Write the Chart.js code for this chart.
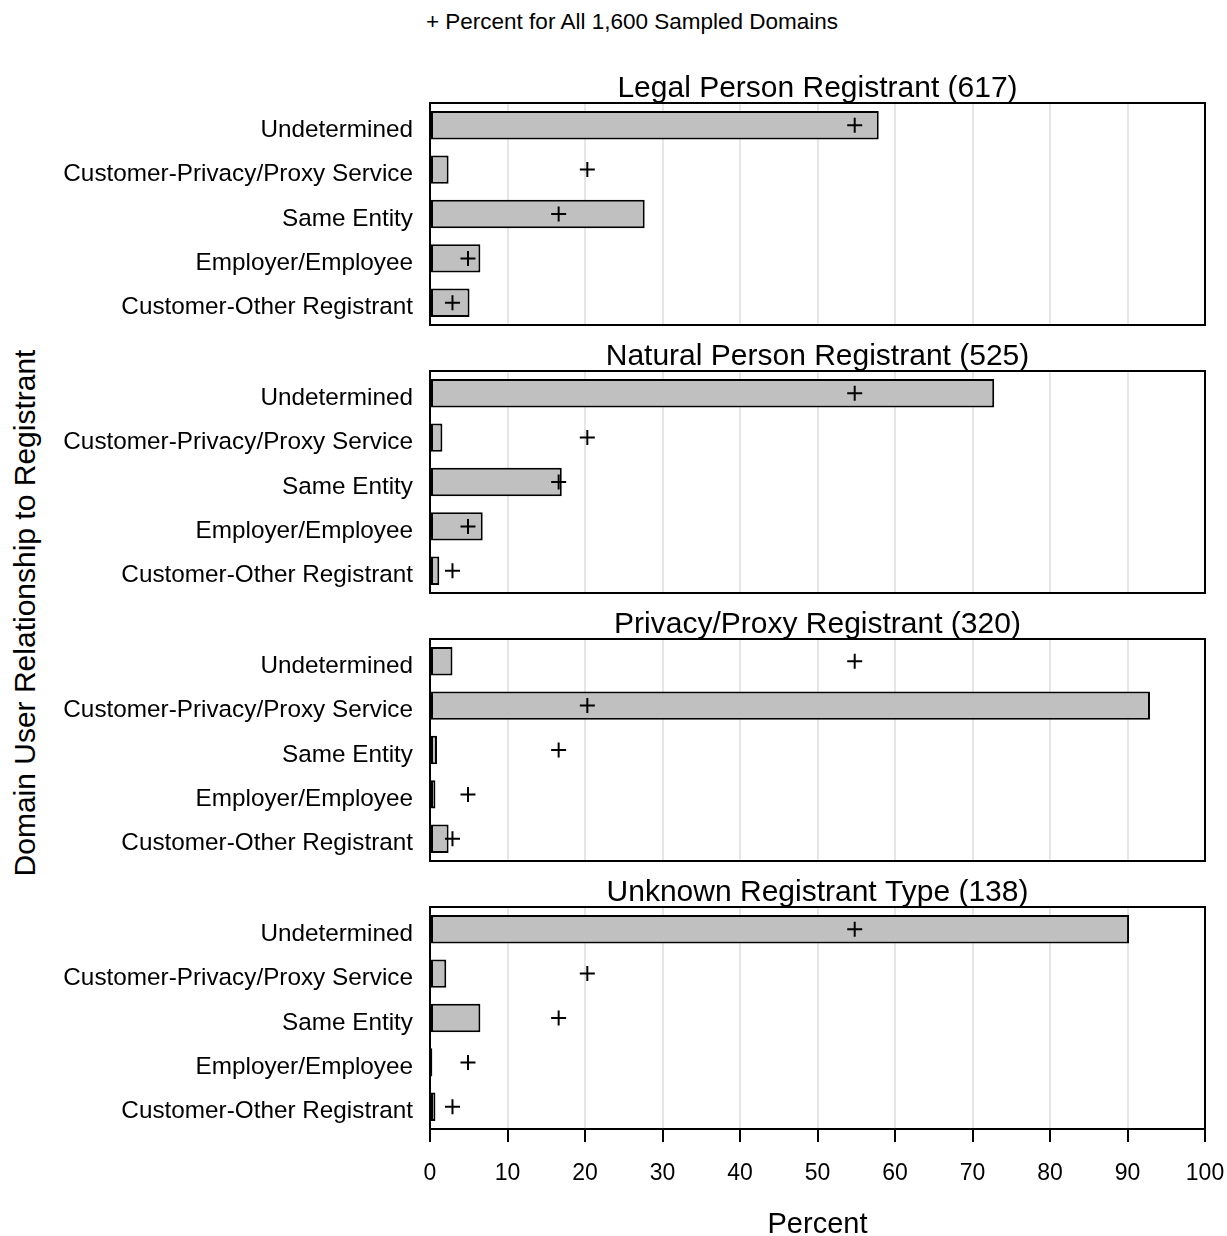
<!DOCTYPE html>
<html>
<head>
<meta charset="utf-8">
<title>Domain User Relationship to Registrant</title>
<script src="https://cdn.jsdelivr.net/npm/chart.js@4.4.1/dist/chart.umd.min.js"></script>
<style>
  html, body { margin: 0; padding: 0; background: #ffffff; }
  #page { position: relative; width: 1227px; height: 1236px; overflow: hidden;
          font-family: "Liberation Sans", Arial, sans-serif; color: #000; }
  .panel { position: absolute; left: 0; width: 1227px; }
  .panel canvas { display: block; }
  #legend { position: absolute; top: 9px; left: 0; width: 1264px; text-align: center;
            font-size: 22.5px; line-height: 26px; white-space: nowrap; }
  #ytitle { position: absolute; left: 25px; top: 613px; white-space: nowrap; font-size: 30px;
            transform: translate(-50%, -50%) rotate(-90deg); }
</style>
</head>
<body>
<div id="page">
  <div id="legend">+ Percent for All 1,600 Sampled Domains</div>
  <div id="ytitle">Domain User Relationship to Registrant</div>
  <div class="panel" style="top:65px"><canvas id="p0" width="1227" height="300"></canvas></div>
  <div class="panel" style="top:333px"><canvas id="p1" width="1227" height="300"></canvas></div>
  <div class="panel" style="top:601px"><canvas id="p2" width="1227" height="300"></canvas></div>
  <div class="panel" style="top:869px"><canvas id="p3" width="1227" height="367"></canvas></div>
</div>
<script>
// Relationship categories, top to bottom in every panel
const categories = [
  'Undetermined',
  'Customer-Privacy/Proxy Service',
  'Same Entity',
  'Employer/Employee',
  'Customer-Other Registrant'
];

// Panel headings (registrant type and sample count)
const panelTitles = [
  'Legal Person Registrant (617)',
  'Natural Person Registrant (525)',
  'Privacy/Proxy Registrant (320)',
  'Unknown Registrant Type (138)'
];

// Percent of domains in each relationship category, per registrant type
const legalPerson   = [57.9, 2.4, 27.7, 6.5, 5.1];
const naturalPerson = [72.8, 1.6, 17.0, 6.8, 1.2];
const privacyProxy  = [2.9, 92.9, 0.9, 0.7, 2.4];
const unknownType   = [90.2, 2.1, 6.5, 0.3, 0.7];

// Percent for all 1,600 sampled domains (the "+" markers)
const allDomains    = [54.8, 20.3, 16.6, 4.9, 2.9];

// Percent axis ticks
const percentTicks  = [0, 10, 20, 30, 40, 50, 60, 70, 80, 90, 100];

const panelSeries = [legalPerson, naturalPerson, privacyProxy, unknownType];

const FONT = '"Liberation Sans", Arial, sans-serif';

// Black frame around each plotting area
const frame = {
  id: 'frame',
  afterDatasetsDraw(chart) {
    const a = chart.chartArea;
    const ctx = chart.ctx;
    ctx.save();
    ctx.strokeStyle = '#000';
    ctx.lineWidth = 2;
    ctx.strokeRect(a.left, a.top, a.right - a.left, a.bottom - a.top);
    ctx.restore();
  }
};

// Keep label overhang from shrinking the plotting area
function noOverhang(scale) {
  scale.paddingLeft = 0;
  scale.paddingRight = 0;
  scale.paddingTop = 0;
  scale.paddingBottom = 0;
}

function makePanel(idx) {
  const isLast = idx === panelSeries.length - 1;
  const canvas = document.getElementById('p' + idx);
  return new Chart(canvas, {
    type: 'bar',
    data: {
      labels: categories,
      datasets: [
        {
          type: 'line',
          label: 'Percent for All 1,600 Sampled Domains',
          data: allDomains,
          indexAxis: 'y',
          showLine: false,
          pointStyle: 'cross',
          pointRadius: 7.5,
          pointHoverRadius: 7.5,
          pointBorderWidth: 2,
          borderColor: '#000',
          backgroundColor: '#000',
          order: 0
        },
        {
          type: 'bar',
          label: panelTitles[idx],
          data: panelSeries[idx],
          indexAxis: 'y',
          backgroundColor: '#c0c0c0',
          borderColor: '#000',
          borderWidth: 2,
          borderSkipped: false,
          categoryPercentage: 0.64,
          barPercentage: 1,
          order: 1
        }
      ]
    },
    options: {
      indexAxis: 'y',
      responsive: false,
      animation: false,
      events: [],
      layout: { padding: { left: 0, right: 22, top: 0, bottom: 0 } },
      plugins: {
        legend: { display: false },
        tooltip: { enabled: false },
        title: {
          display: true,
          text: panelTitles[idx],
          fullSize: false,
          color: '#000',
          font: { family: FONT, size: 30, weight: 'normal', lineHeight: 1 },
          padding: { top: 9, bottom: -1 }
        }
      },
      scales: {
        x: {
          type: 'linear',
          min: 0,
          max: 100,
          afterBuildTicks(scale) {
            scale.ticks = percentTicks.map(v => ({ value: v }));
          },
          afterFit(scale) {
            scale.height = isLast ? 107 : 40;
            noOverhang(scale);
          },
          border: { display: false },
          grid: {
            display: true,
            drawOnChartArea: true,
            drawTicks: isLast,
            tickLength: 13,
            tickWidth: 2,
            tickColor: '#000',
            color: '#e6e6e6',
            lineWidth: 2
          },
          ticks: {
            display: isLast,
            color: '#000',
            padding: 18,
            font: { family: FONT, size: 23 }
          },
          title: {
            display: isLast,
            text: 'Percent',
            color: '#000',
            font: { family: FONT, size: 29, lineHeight: 1 },
            padding: { top: 0, bottom: -3 }
          }
        },
        y: {
          type: 'category',
          afterFit(scale) {
            scale.width = 430;
            noOverhang(scale);
          },
          border: { display: false },
          grid: { display: false, drawTicks: false },
          ticks: {
            color: '#000',
            padding: 17,
            labelOffset: 5,
            font: { family: FONT, size: 24.3 }
          }
        }
      }
    },
    plugins: [frame]
  });
}

panelSeries.forEach((_, i) => makePanel(i));
</script>
</body>
</html>
